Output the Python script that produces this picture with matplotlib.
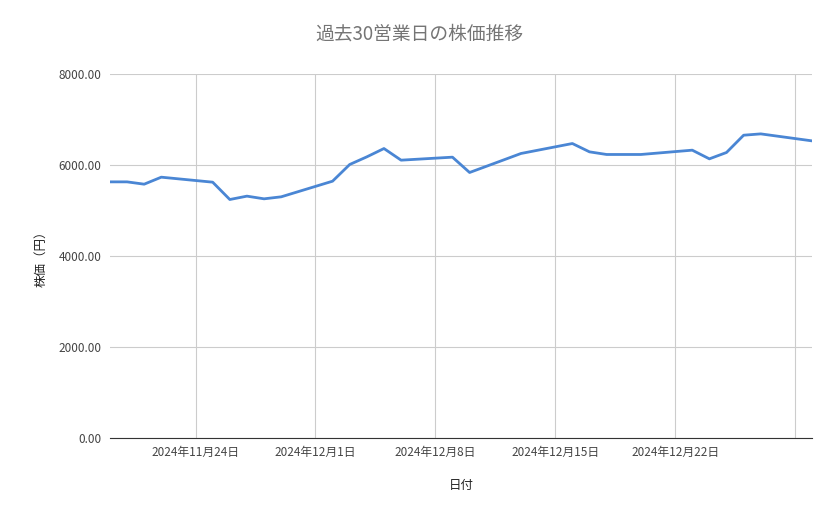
import matplotlib
matplotlib.use("Agg")
import matplotlib.pyplot as plt
import pandas as pd

plt.rcParams['font.family'] = ['Noto Sans CJK JP', 'DejaVu Sans']

dates = ["2024-11-19","2024-11-20","2024-11-21","2024-11-22","2024-11-25","2024-11-26","2024-11-27",
         "2024-11-28","2024-11-29","2024-12-02","2024-12-03","2024-12-04","2024-12-05","2024-12-06",
         "2024-12-09","2024-12-10","2024-12-11","2024-12-12","2024-12-13","2024-12-16","2024-12-17",
         "2024-12-18","2024-12-19","2024-12-20","2024-12-23","2024-12-24","2024-12-25","2024-12-26",
         "2024-12-27","2024-12-30"]
prices = [5633,5633,5582,5736,5626,5245,5319,5260,5304,5648,6015,6183,6366,6110,
          6176,5839,5978,6117,6257,6476,6293,6235,6235,6235,6330,6139,6279,6659,6688,6534]
tick_dates = ["2024-11-24","2024-12-01","2024-12-08","2024-12-15","2024-12-22","2024-12-29"]
tick_labels = ["2024年11月24日","2024年12月1日","2024年12月8日","2024年12月15日","2024年12月22日",""]
yticks = [0, 2000, 4000, 6000, 8000]

x = pd.to_datetime(dates)
fig = plt.figure(figsize=(8.39, 5.19), dpi=100)
ax = fig.add_axes([0.131, 0.156, 0.837, 0.701])
ax.plot(x, prices, color='#4a86d4', lw=2)
ax.set_xlim(pd.Timestamp("2024-11-19"), pd.Timestamp("2024-12-30"))
ax.set_ylim(0, 8000)
ax.set_xticks(pd.to_datetime(tick_dates))
ax.set_xticklabels(tick_labels)
ax.set_yticks(yticks)
ax.set_yticklabels([f"{v:.2f}" for v in yticks])
ax.grid(True, color='#cccccc', lw=0.8)
ax.set_axisbelow(True)
for s in ['top', 'right', 'left']:
    ax.spines[s].set_visible(False)
ax.spines['bottom'].set_color('#333333')
ax.tick_params(length=0, labelsize=8.5, colors='#444444', pad=6)
ax.set_xlabel("日付", fontsize=9, color='#222222', labelpad=14)
ax.set_ylabel("株価（円）", fontsize=9, color='#222222', labelpad=8)
fig.suptitle("過去30営業日の株価推移", x=0.5, y=0.955, fontsize=13.5, color='#757575')
fig.savefig("out.png")
